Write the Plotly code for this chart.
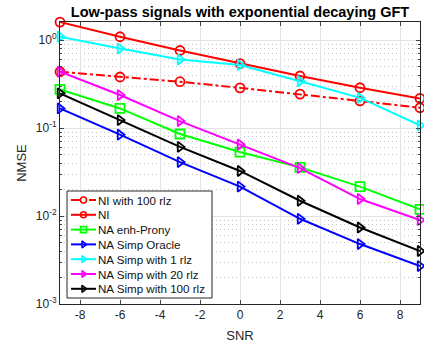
import plotly.graph_objects as go

snr = [-9, -6, -3, 0, 3, 6, 9]

ni_100rlz = [0.436, 0.38, 0.336, 0.286, 0.243, 0.203, 0.17]
ni = [1.6, 1.09, 0.76, 0.54, 0.39, 0.287, 0.217]
na_enh_prony = [0.275, 0.167, 0.0855, 0.0533, 0.0357, 0.0216, 0.0119]
na_simp_oracle = [0.167, 0.084, 0.041, 0.0216, 0.0093, 0.0048, 0.0027]
na_simp_1rlz = [1.09, 0.80, 0.60, 0.52, 0.34, 0.22, 0.107]
na_simp_20rlz = [0.436, 0.237, 0.12, 0.065, 0.035, 0.0156, 0.009]
na_simp_100rlz = [0.248, 0.123, 0.061, 0.0325, 0.0149, 0.0074, 0.004]

series_names = ["NI with 100 rlz", "NI", "NA enh-Prony", "NA Simp Oracle",
                "NA Simp with 1 rlz", "NA Simp with 20 rlz", "NA Simp with 100 rlz"]
series_values = [ni_100rlz, ni, na_enh_prony, na_simp_oracle,
                 na_simp_1rlz, na_simp_20rlz, na_simp_100rlz]
series_colors = ["#ff0000", "#ff0000", "#00ff00", "#0000ff", "#00ffff", "#ff00ff", "#000000"]
series_symbols = ["circle-open", "circle-open", "square-open", "triangle-right-open",
                  "triangle-right-open", "triangle-right-open", "triangle-right-open"]
series_dashes = ["dashdot", "solid", "solid", "solid", "solid", "solid", "solid"]

x_ticks = [-8, -6, -4, -2, 0, 2, 4, 6, 8]
x_ticklabels = ["-8", "-6", "-4", "-2", "0", "2", "4", "6", "8"]
y_ticks = [1e-3, 1e-2, 1e-1, 1e0]
y_ticklabels = ["10<sup>-3</sup>", "10<sup>-2</sup>", "10<sup>-1</sup>", "10<sup>0</sup>"]
y_minor = [m * 10.0 ** e for e in (-3, -2, -1, 0) for m in range(2, 10)]

# plot area in pixels (used for a compact, boxed legend drawn on an overlay axis)
PLOT_W, PLOT_H = 360, 282
LEG_BOX = (7, 152, 6, 113)          # x0, x1, y0, y1 in overlay pixels
LEG_TOP, LEG_STEP = 104, 14.8
LEG_LINE = (11, 36)
LEG_TEXT_X = 36

fig = go.Figure()
for name, vals, color, sym, dash in zip(series_names, series_values, series_colors,
                                        series_symbols, series_dashes):
    fig.add_trace(go.Scatter(
        x=snr, y=vals, name=name, mode="lines+markers",
        line=dict(color=color, width=2, dash=dash),
        marker=dict(symbol=sym, size=9, color=color, line=dict(width=1.8, color=color)),
        cliponaxis=False, showlegend=False,
    ))

# legend box
bx0, bx1, by0, by1 = LEG_BOX
fig.add_trace(go.Scatter(
    x=[bx0, bx1, bx1, bx0, bx0], y=[by0, by0, by1, by1, by0],
    xaxis="x2", yaxis="y2", mode="lines", fill="toself", fillcolor="white",
    line=dict(color="#262626", width=1), showlegend=False, hoverinfo="skip",
))
for i, (name, color, sym, dash) in enumerate(zip(series_names, series_colors,
                                                 series_symbols, series_dashes)):
    yc = LEG_TOP - i * LEG_STEP
    fig.add_trace(go.Scatter(
        x=list(LEG_LINE), y=[yc, yc], xaxis="x2", yaxis="y2", mode="lines",
        line=dict(color=color, width=2, dash="dash" if dash == "dashdot" else "solid"),
        showlegend=False, hoverinfo="skip",
    ))
    fig.add_trace(go.Scatter(
        x=[(LEG_LINE[0] + LEG_LINE[1]) / 2], y=[yc], xaxis="x2", yaxis="y2", mode="markers",
        marker=dict(symbol=sym, size=6, color=color, line=dict(width=1.6, color=color)),
        showlegend=False, hoverinfo="skip",
    ))
    fig.add_annotation(x=LEG_TEXT_X, y=yc, xref="x2", yref="y2", text=name,
                       showarrow=False, xanchor="left", yanchor="middle",
                       font=dict(size=11.6, color="#111111"))

fig.update_layout(
    width=424, height=346,
    margin=dict(l=60, r=4, t=22, b=42),
    paper_bgcolor="white", plot_bgcolor="white",
    font=dict(family="Liberation Sans, Arial, sans-serif", size=12, color="#262626"),
    title=dict(text="<b>Low-pass signals with exponential decaying GFT</b>",
               x=0.5, xref="paper", xanchor="center", y=0.965, yanchor="middle",
               font=dict(size=14.5, color="black")),
    showlegend=False,
    xaxis=dict(
        range=[-9, 9], tickvals=x_ticks, ticktext=x_ticklabels, ticks="inside", ticklen=4,
        showline=True, linecolor="#262626", linewidth=1, mirror="ticks",
        showgrid=True, gridcolor="#e2e2e2", gridwidth=1, zeroline=False,
        title=dict(text="SNR", standoff=9, font=dict(size=13)),
        tickfont=dict(size=12),
    ),
    yaxis=dict(
        type="log", range=[-3, 0.205], tickvals=y_ticks, ticktext=y_ticklabels,
        ticks="inside", ticklen=4,
        showline=True, linecolor="#262626", linewidth=1, mirror="ticks",
        showgrid=True, gridcolor="#e2e2e2", gridwidth=1, zeroline=False,
        minor=dict(tickvals=y_minor, ticks="inside", ticklen=2, showgrid=True,
                   gridcolor="#c4c4c4", griddash="1px,3px", gridwidth=1),
        title=dict(text="NMSE", standoff=6, font=dict(size=13)),
        tickfont=dict(size=12),
    ),
    xaxis2=dict(overlaying="x", anchor="y2", range=[0, PLOT_W], visible=False, fixedrange=True),
    yaxis2=dict(overlaying="y", anchor="x2", range=[0, PLOT_H], visible=False, fixedrange=True),
)

fig.write_html("out.html")
